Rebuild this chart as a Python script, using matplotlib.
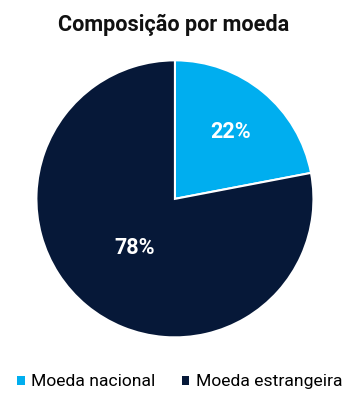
import matplotlib
matplotlib.use("Agg")
import matplotlib.pyplot as plt
import numpy as np
from matplotlib.patches import Patch

plt.rcParams["font.family"] = ["Roboto", "DejaVu Sans"]

categories = ["Moeda nacional", "Moeda estrangeira"]
shares = [22, 78]
colors = ["#00AEEF", "#061838"]
label_dist = [0.63, 0.46]

fig = plt.figure(figsize=(3.42, 3.93), dpi=100)
ax = fig.add_axes([0.102, 0.138, 0.819, 0.712])

wedges, _ = ax.pie(shares, colors=colors, startangle=90, counterclock=False,
                   radius=1.0, wedgeprops=dict(edgecolor="white", linewidth=1.5))
for w, val, d in zip(wedges, shares, label_dist):
    ang = np.deg2rad((w.theta1 + w.theta2) / 2)
    ax.text(d * np.cos(ang), d * np.sin(ang), f"{val}%", color="white",
            fontsize=15.5, fontweight="bold", ha="center", va="center")
ax.set_xlim(-1.01, 1.01)
ax.set_ylim(-1.01, 1.01)
ax.set_aspect("equal")
ax.axis("off")

fig.text(0.508, 0.937, "Composição por moeda", ha="center", va="center",
         fontsize=15.6, fontweight="bold", color="#111111")

handles = [Patch(facecolor=c, edgecolor="none") for c in colors]
fig.legend(handles, categories, loc="center", bbox_to_anchor=(0.525, 0.028),
           ncol=2, frameon=False, fontsize=12.6, handlelength=0.45,
           handleheight=0.45, handletextpad=0.35, columnspacing=1.5)

fig.savefig("out.png", dpi=100)
